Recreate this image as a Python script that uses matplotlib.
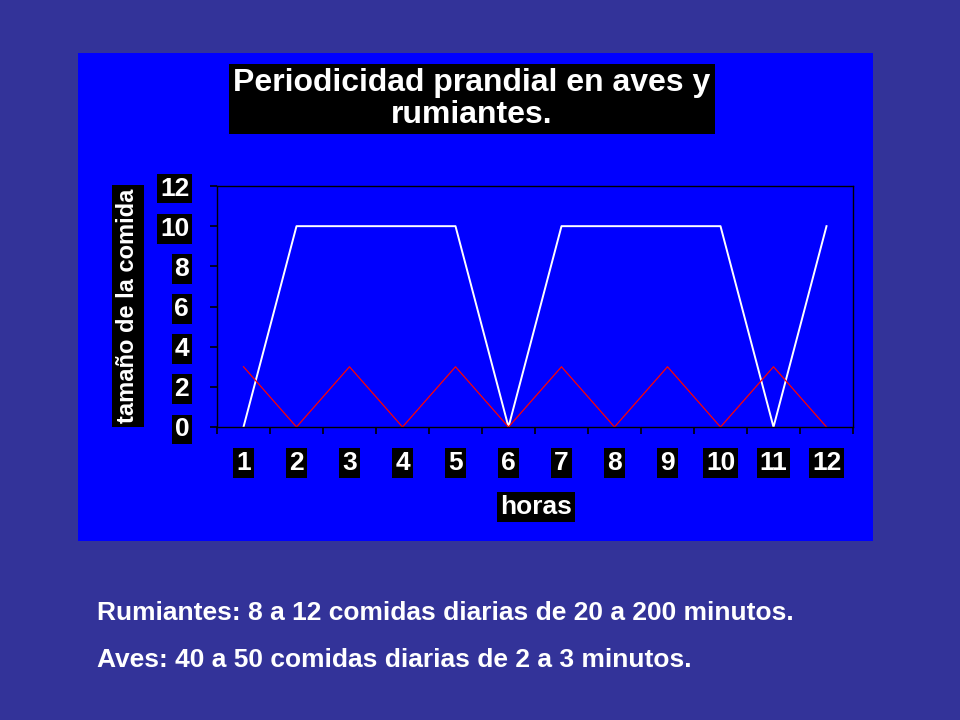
import numpy as np
import matplotlib
matplotlib.use("Agg")
import matplotlib.pyplot as plt
from matplotlib.patches import Rectangle

# data
horas = [1, 2, 3, 4, 5, 6, 7, 8, 9, 10, 11, 12]
rumiantes = [0, 10, 10, 10, 10, 0, 10, 10, 10, 10, 0, 10]
aves = [3, 0, 3, 0, 3, 0, 3, 0, 3, 0, 3, 0]
yticks = [0, 2, 4, 6, 8, 10, 12]

titulo = "Periodicidad prandial en aves y\nrumiantes."
ylabel = "tamaño de la comida"
xlabel = "horas"
notas = ["Rumiantes: 8 a 12 comidas diarias de 20 a 200 minutos.",
         "Aves: 40 a 50 comidas diarias de 2 a 3 minutos."]

slide_bg = "#333399"
panel_bg = "#0000FF"

plt.rcParams['font.family'] = ['Liberation Sans', 'DejaVu Sans']

fig = plt.figure(figsize=(9.6, 7.2), dpi=100)
fig.patch.set_facecolor(slide_bg)

W, H = 960, 720
def fx(px): return px / W
def fy(py): return 1 - py / H

# blue chart panel
fig.patches.append(Rectangle((fx(78), fy(541)), fx(873) - fx(78), fy(53) - fy(541),
                             transform=fig.transFigure, facecolor=panel_bg,
                             edgecolor='none', zorder=-5))

ax = fig.add_axes([fx(217), fy(427), fx(853) - fx(217), fy(186) - fy(427)])
ax.set_zorder(2)
ax.set_facecolor(panel_bg)
ax.plot(horas, rumiantes, color='white', lw=1.4)
ax.plot(horas, aves, color='#FF0000', lw=0.9)

ax.set_xlim(0.5, 12.5)
ax.set_ylim(0, 12)
ax.set_yticks(yticks)
ax.set_xticks(horas)
ax.set_xticks(np.arange(0.5, 13, 1), minor=True)
ax.tick_params(axis='x', which='major', length=0, pad=17)
ax.tick_params(axis='x', which='minor', length=5, width=1.2, color='black', direction='out')
ax.tick_params(axis='y', length=5, width=1.2, color='black', direction='out', pad=15)
for s in ax.spines.values():
    s.set_color('black')
    s.set_linewidth(1.0)

box = dict(facecolor='black', edgecolor='none', pad=2)
ax.set_xticklabels([str(h) for h in horas])
ax.set_yticklabels([str(v) for v in yticks])
for lab in ax.get_xticklabels() + ax.get_yticklabels():
    lab.set_color('white')
    lab.set_fontweight('bold')
    lab.set_fontsize(19)
    lab.set_bbox(box)

fig.text(fx(472), fy(99), titulo, ha='center', va='center', color='white',
         fontsize=23, fontweight='bold', linespacing=1.08,
         bbox=dict(facecolor='black', edgecolor='none', pad=3))

fig.text(fx(128), fy(306), ylabel, ha='center', va='center', rotation=90,
         color='white', fontsize=17, fontweight='bold',
         bbox=dict(facecolor='black', edgecolor='none', pad=3))

fig.text(fx(536), fy(507), xlabel, ha='center', va='center', color='white',
         fontsize=19, fontweight='bold', bbox=box)

for i, nota in enumerate(notas):
    fig.text(fx(97), fy(613 + 47 * i), nota, ha='left', va='center', color='white',
             fontsize=19, fontweight='bold')

fig.savefig("out.png", dpi=100, facecolor=fig.get_facecolor())
